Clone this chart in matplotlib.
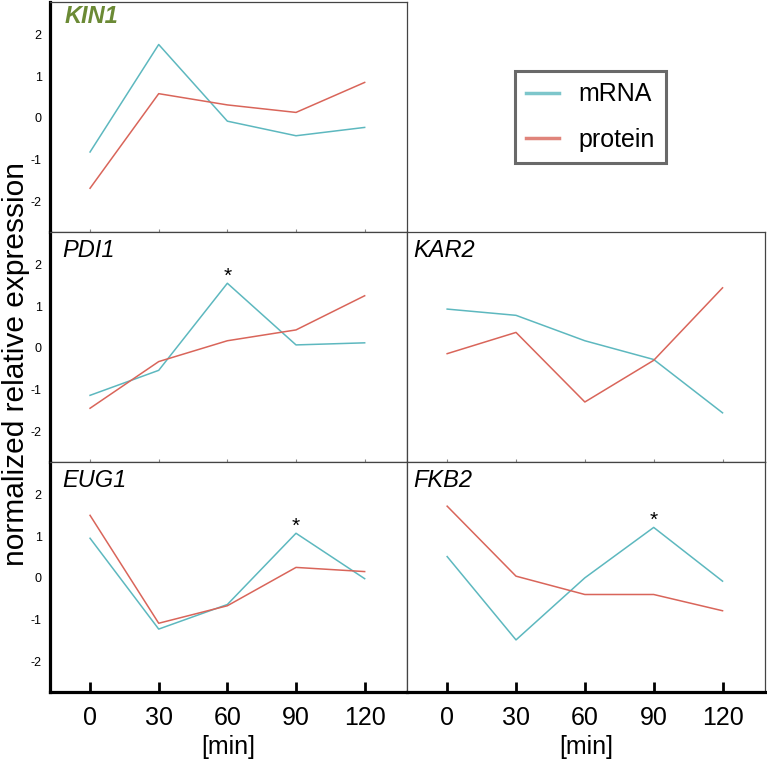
import matplotlib.pyplot as plt

plt.rcParams['font.family'] = ['Liberation Sans', 'DejaVu Sans']
plt.rcParams['axes.unicode_minus'] = False

# time points (min)
times = [0, 30, 60, 90, 120]
time_labels = ['0', '30', '60', '90', '120']

# normalized relative expression
kin1_mrna = [-0.82, 1.76, -0.08, -0.43, -0.23]
kin1_protein = [-1.69, 0.58, 0.31, 0.13, 0.85]
pdi1_mrna = [-1.14, -0.54, 1.55, 0.07, 0.12]
pdi1_protein = [-1.45, -0.33, 0.17, 0.43, 1.25]
kar2_mrna = [0.93, 0.78, 0.17, -0.28, -1.56]
kar2_protein = [-0.14, 0.37, -1.30, -0.30, 1.44]
eug1_mrna = [0.95, -1.23, -0.64, 1.07, -0.02]
eug1_protein = [1.50, -1.09, -0.67, 0.25, 0.15]
fkb2_mrna = [0.51, -1.49, 0.00, 1.21, -0.08]
fkb2_protein = [1.72, 0.04, -0.40, -0.40, -0.79]

mrna_color = '#5db8bf'
protein_color = '#d9655a'

W, H = 767, 763
fig = plt.figure(figsize=(W / 100, H / 100), dpi=100)

# panels: name, mRNA, protein, column, row, significant time point (or None)
panels = [
    ('KIN1', kin1_mrna, kin1_protein, 0, 0, None),
    ('PDI1', pdi1_mrna, pdi1_protein, 0, 1, 60),
    ('KAR2', kar2_mrna, kar2_protein, 1, 1, None),
    ('EUG1', eug1_mrna, eug1_protein, 0, 2, 90),
    ('FKB2', fkb2_mrna, fkb2_protein, 1, 2, 90),
]

col_x = [(50, 407), (407, 765)]
row_y = [(2, 232), (232, 462), (462, 692)]

for name, mrna, prot, col, row, star in panels:
    x0, x1 = col_x[col]
    y0, y1 = row_y[row]
    ax = fig.add_axes([x0 / W, 1 - y1 / H, (x1 - x0) / W, (y1 - y0) / H])
    ax.plot(times, mrna, color=mrna_color, lw=1.1, label='mRNA')
    ax.plot(times, prot, color=protein_color, lw=1.1, label='protein')
    ax.set_xlim(-17.5, 138.5)
    ax.set_ylim(-2.74, 2.78)

    for s in ax.spines.values():
        s.set_linewidth(0.9)
        s.set_color('#444444')
    if col == 0:
        ax.spines['left'].set_linewidth(2.3)
        ax.spines['left'].set_color('black')
        ax.set_yticks([-2, -1, 0, 1, 2])
        ax.tick_params(axis='y', length=0, pad=6, labelsize=9)
    else:
        ax.set_yticks([])

    ax.set_xticks(times)
    if row == 2:
        ax.spines['bottom'].set_linewidth(2.3)
        ax.spines['bottom'].set_color('black')
        ax.set_xticklabels(time_labels)
        ax.tick_params(axis='x', direction='in', length=7, width=2, pad=10,
                       labelsize=18)
        ax.set_xlabel('[min]', fontsize=18, labelpad=4)
    else:
        ax.tick_params(axis='x', direction='in', length=2, width=0.8,
                       color='#888888', labelbottom=False)

    if name == 'KIN1':
        ax.text(0.04, 0.985, name, transform=ax.transAxes, ha='left', va='top',
                fontsize=17, fontstyle='italic', fontweight='bold',
                color='#6b8a35')
    else:
        tx = 0.034 if col == 0 else 0.018
        ax.text(tx, 0.97, name, transform=ax.transAxes, ha='left', va='top',
                fontsize=17, fontstyle='italic')

    if star is not None:
        i = times.index(star)
        ax.annotate('*', (times[i], mrna[i]), xytext=(0, -2),
                    textcoords='offset points', ha='center', va='bottom',
                    fontsize=15)

    if name == 'KIN1':
        handles, labels = ax.get_legend_handles_labels()

leg = fig.legend(handles, labels, loc='center',
                 bbox_to_anchor=(590.5 / W, 1 - 117 / H),
                 fontsize=18, frameon=True, fancybox=False,
                 handlelength=1.3, handletextpad=0.8, labelspacing=0.85,
                 borderpad=0.45, borderaxespad=0)
leg.get_frame().set_edgecolor('#444444')
leg.get_frame().set_linewidth(2.2)
for line in leg.get_lines():
    line.set_linewidth(2.5)
    line.set_alpha(0.8)

fig.text(16 / W, 1 - 364 / H, 'normalized relative expression',
         rotation=90, ha='center', va='center', fontsize=21.5)

fig.savefig('out.png', dpi=100)
